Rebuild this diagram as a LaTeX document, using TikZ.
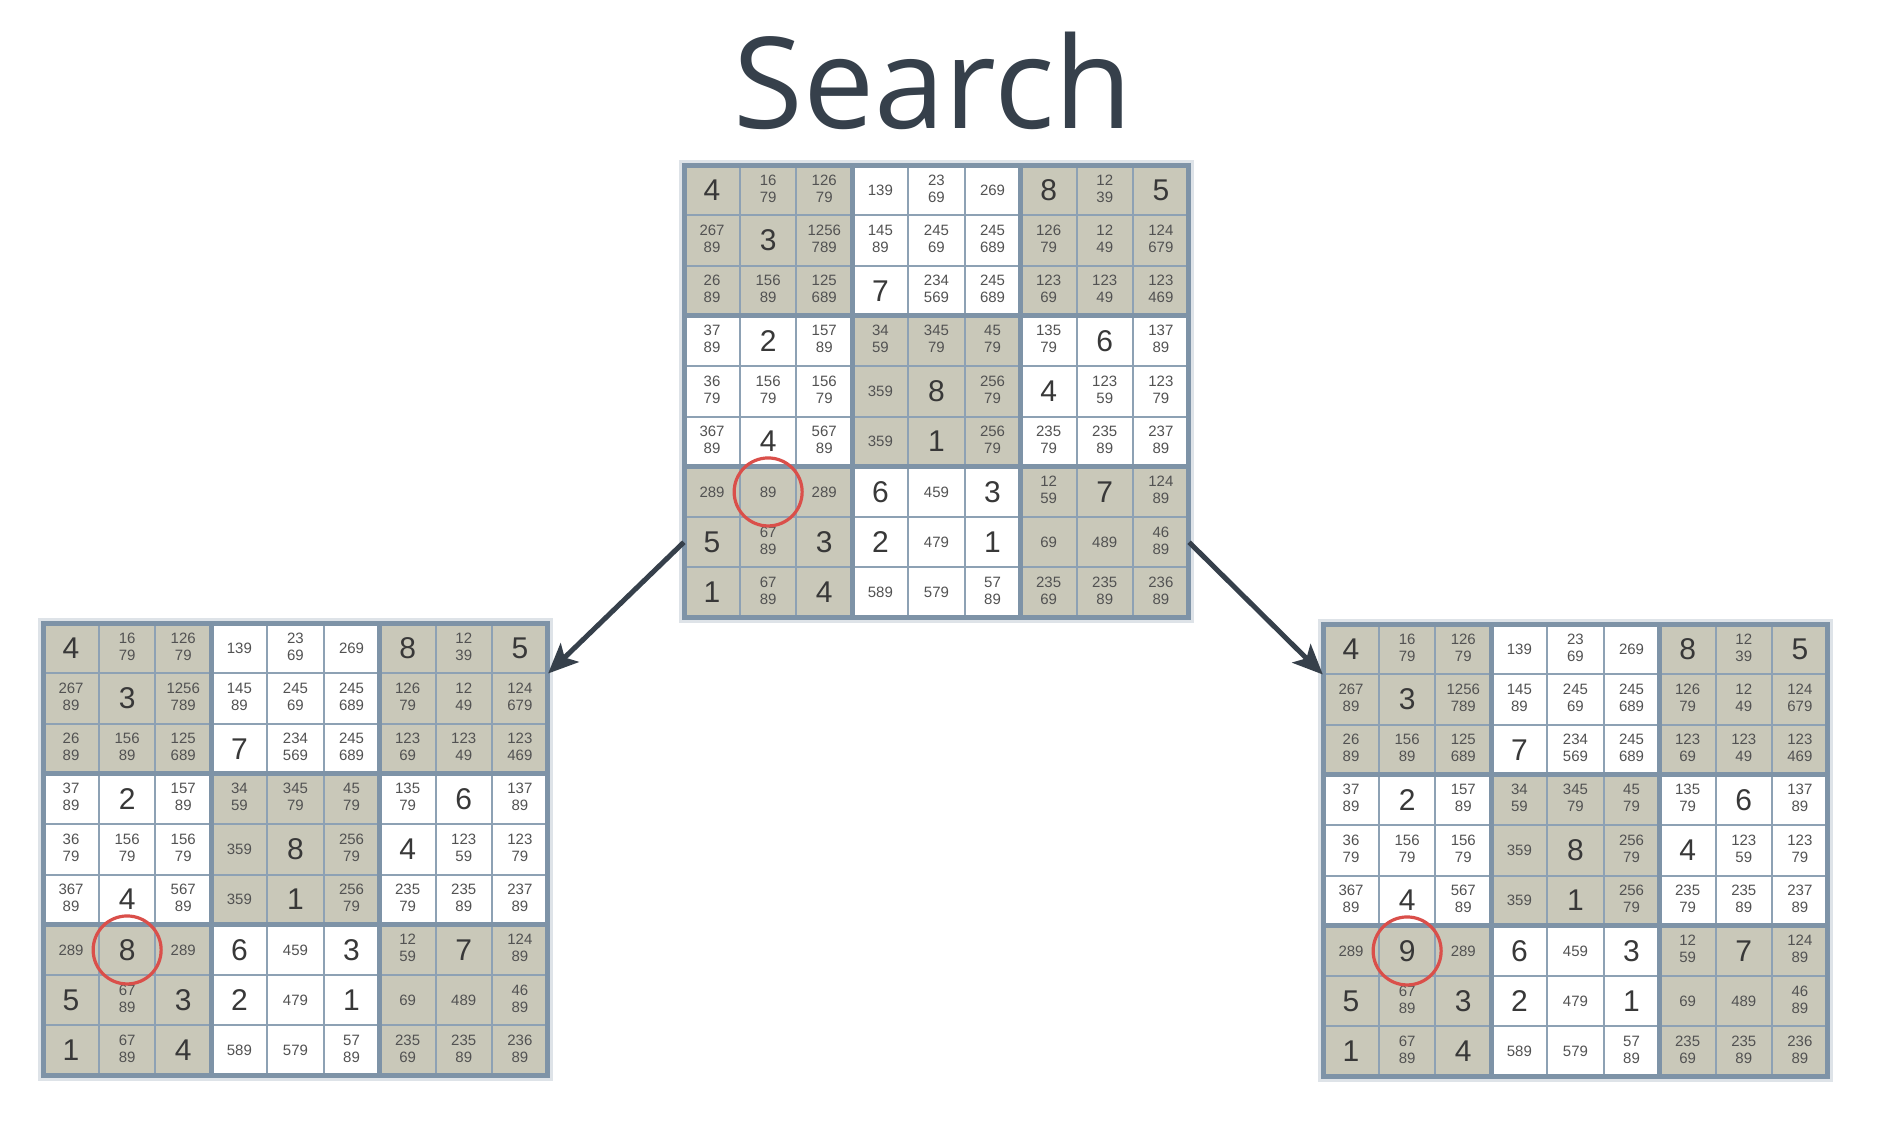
\documentclass[tikz,border=0pt]{standalone}
\usepackage{fontspec}
\setmainfont{Liberation Sans}
\newfontfamily\titlefont{Open Sans}
\usepackage{tikz}
\usetikzlibrary{arrows.meta}
\usepackage{xcolor}

\definecolor{casegris}{HTML}{C9C8B9}
\definecolor{traitfin}{HTML}{8DA1B4}
\definecolor{traitbloc}{HTML}{7E93A7}
\definecolor{encre}{HTML}{36404B}
\definecolor{rouge}{HTML}{DA4F4A}

\newcommand\Gros[1]{{\fontsize{30}{30}\selectfont\color{black!78}#1}}
\newcommand\Deux[2]{{\fontsize{15}{17}\selectfont\color{black!68}%
  \begin{tabular}{@{}c@{}}#1\\#2\end{tabular}}}
\newcommand\Un[1]{{\fontsize{15}{17}\selectfont\color{black!68}#1}}

\def\Cw{56.1}
\def\Ch{50.3}

% the 81 cells, row by row
\def\Grille{%
\Gros4,\Deux{16}{79},\Deux{126}{79},\Un{139},\Deux{23}{69},\Un{269},\Gros8,\Deux{12}{39},\Gros5,
\Deux{267}{89},\Gros3,\Deux{1256}{789},\Deux{145}{89},\Deux{245}{69},\Deux{245}{689},\Deux{126}{79},\Deux{12}{49},\Deux{124}{679},
\Deux{26}{89},\Deux{156}{89},\Deux{125}{689},\Gros7,\Deux{234}{569},\Deux{245}{689},\Deux{123}{69},\Deux{123}{49},\Deux{123}{469},
\Deux{37}{89},\Gros2,\Deux{157}{89},\Deux{34}{59},\Deux{345}{79},\Deux{45}{79},\Deux{135}{79},\Gros6,\Deux{137}{89},
\Deux{36}{79},\Deux{156}{79},\Deux{156}{79},\Un{359},\Gros8,\Deux{256}{79},\Gros4,\Deux{123}{59},\Deux{123}{79},
\Deux{367}{89},\Gros4,\Deux{567}{89},\Un{359},\Gros1,\Deux{256}{79},\Deux{235}{79},\Deux{235}{89},\Deux{237}{89},
\Un{289},\Choix,\Un{289},\Gros6,\Un{459},\Gros3,\Deux{12}{59},\Gros7,\Deux{124}{89},
\Gros5,\Deux{67}{89},\Gros3,\Gros2,\Un{479},\Gros1,\Un{69},\Un{489},\Deux{46}{89},
\Gros1,\Deux{67}{89},\Gros4,\Un{589},\Un{579},\Deux{57}{89},\Deux{235}{69},\Deux{235}{89},\Deux{236}{89}}

% #1 name, #2 x, #3 y
\newcommand\Plateau[3]{%
\begin{scope}[shift={(#2,#3)}]
  \foreach \Bi/\Bj in {0/0,0/2,1/1,2/0,2/2}
    \fill[casegris] ({3*\Bj*\Cw},{3*\Bi*\Ch}) rectangle ++({3*\Cw},{3*\Ch});
  \foreach \K in {1,2,4,5,7,8}{
    \draw[fin] ({\K*\Cw},0) -- ({\K*\Cw},{9*\Ch});
    \draw[fin] (0,{\K*\Ch}) -- ({9*\Cw},{\K*\Ch});
  }
  \foreach \K in {3,6}{
    \draw[bloc] ({\K*\Cw},0) -- ({\K*\Cw},{9*\Ch});
    \draw[bloc] (0,{\K*\Ch}) -- ({9*\Cw},{\K*\Ch});
  }
  \draw[bloc,line width=6pt,draw opacity=0.25] (-2,-2) rectangle ({9*\Cw+2},{9*\Ch+2});
  \draw[bloc] (0,0) rectangle ({9*\Cw},{9*\Ch});
  \foreach \Nombre [count=\Rang from 0] in \Grille {
    \pgfmathtruncatemacro\Ligne{\Rang/9}
    \pgfmathtruncatemacro\Colonne{\Rang-9*\Ligne}
    \node[case] (#1-\Ligne-\Colonne) at ({(\Colonne+0.5)*\Cw},{(\Ligne+0.5)*\Ch}) {\Nombre};
  }
\end{scope}
\draw[anneau] (#1-6-1.center) circle[radius=34pt];
}

\begin{document}
\begin{tikzpicture}[x=1pt,y=-1pt,
    fin/.style={traitfin,line width=2pt},
    bloc/.style={traitbloc,line width=5pt},
    case/.style={minimum width=\Cw pt,minimum height=\Ch pt,inner sep=0pt},
    anneau/.style={rouge,line width=3.2pt},
    fleche/.style={encre,line width=5pt,-{Stealth[length=30pt,width=26pt,inset=7pt]}}]
  \useasboundingbox (0,0) rectangle (1877,1148);
  \fill[white] (0,0) rectangle (1877,1148);

  \node[anchor=base,encre,font=\titlefont\fontsize{127}{127}\selectfont] (titre) at (933,128) {Search};

  \def\Choix{\Un{89}}
  \Plateau{haut}{684}{165}
  \def\Choix{\Gros8}
  \Plateau{gauche}{43}{623}
  \def\Choix{\Gros9}
  \Plateau{droite}{1323}{624}

  \draw[fleche] (haut-7-0.west) -- (gauche-0-8.south east);
  \draw[fleche] (haut-7-8.east) -- (droite-0-0.south west);
\end{tikzpicture}
\end{document}
